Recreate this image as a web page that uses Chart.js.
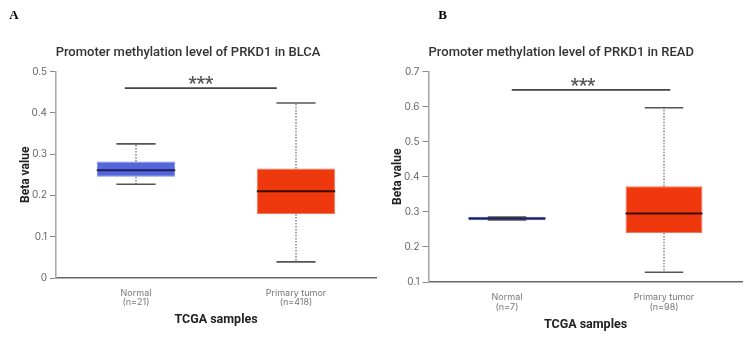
<!DOCTYPE html>
<html>
<head>
<meta charset="utf-8">
<script src="https://cdn.jsdelivr.net/npm/chart.js@4.4.1/dist/chart.umd.min.js"></script>
<style>
  html, body { margin: 0; padding: 0; background: #fff; }
  #wrap { position: relative; width: 750px; height: 339px; overflow: hidden; }
  canvas { position: absolute; top: 0; }
  #cA { left: 0; }
  #cB { left: 380px; }
</style>
</head>
<body>
<div id="wrap">
  <canvas id="cA" width="390" height="339"></canvas>
  <canvas id="cB" width="370" height="339"></canvas>
</div>
<script>
// BLCA
const catsA = [["Normal", "(n=21)"], ["Primary tumor", "(n=418)"]];
const lowA  = [0.227, 0.039];
const q1A   = [0.245, 0.155];
const medA  = [0.261, 0.210];
const q3A   = [0.282, 0.265];
const highA = [0.325, 0.424];
const ticksA = [0, 0.1, 0.2, 0.3, 0.4, 0.5];

// READ
const catsB = [["Normal", "(n=7)"], ["Primary tumor", "(n=98)"]];
const lowB  = [0.277, 0.128];
const q1B   = [0.276, 0.240];
const medB  = [0.281, 0.295];
const q3B   = [0.286, 0.373];
const highB = [0.285, 0.597];
const ticksB = [0.1, 0.2, 0.3, 0.4, 0.5, 0.6, 0.7];

const FONT = "Inter, 'Noto Sans', sans-serif";
const HEAD = "Roboto, 'Noto Sans', sans-serif";
const boxColors = ["#5566dd", "#f0380f"];
const boxBorders = ["#7d8be6", "#f4795a"];

// whiskers, caps, medians and the significance bracket
const boxWhiskers = {
  id: 'boxWhiskers',
  afterDatasetsDraw(chart, args, o) {
    const { ctx, scales: { x, y } } = chart;
    const meta = chart.getDatasetMeta(0);
    const seg = (x1, y1, x2, y2) => { ctx.beginPath(); ctx.moveTo(x1, y1); ctx.lineTo(x2, y2); ctx.stroke(); };
    ctx.save();
    meta.data.forEach((bar, i) => {
      const cx = bar.x, half = bar.width / 2, cap = bar.width / 4;
      const yLow = y.getPixelForValue(o.low[i]);
      const yHigh = y.getPixelForValue(o.high[i]);
      const yQ1 = y.getPixelForValue(o.q1[i]);
      const yQ3 = y.getPixelForValue(o.q3[i]);
      const yMed = y.getPixelForValue(o.med[i]);
      ctx.strokeStyle = '#444';
      ctx.lineWidth = 1;
      ctx.setLineDash([1.5, 1.5]);
      if (yHigh < yQ3) seg(cx, yQ3, cx, yHigh);
      if (yLow > yQ1) seg(cx, yQ1, cx, yLow);
      ctx.setLineDash([]);
      ctx.strokeStyle = '#555';
      ctx.lineWidth = 1.6;
      seg(cx - cap, yHigh, cx + cap, yHigh);
      seg(cx - cap, yLow, cx + cap, yLow);
      ctx.strokeStyle = o.medColor[i];
      ctx.lineWidth = 2;
      seg(cx - half, yMed, cx + half, yMed);
    });
    // bracket + stars
    const sx1 = x.getPixelForValue(o.sig[0]);
    const sx2 = x.getPixelForValue(o.sig[1]);
    const sy = y.getPixelForValue(o.sig[2]);
    ctx.strokeStyle = '#444';
    ctx.lineWidth = 1.6;
    seg(sx1, sy, sx2, sy);
    ctx.fillStyle = '#555';
    ctx.font = "bold 18px " + HEAD;
    ctx.textAlign = 'center';
    ctx.textBaseline = 'alphabetic';
    ctx.fillText('***', (sx1 + sx2) / 2 + o.starShift, sy + 1);
    ctx.restore();
  },
  afterDraw(chart, args, o) {
    const { ctx } = chart;
    ctx.save();
    ctx.fillStyle = '#000';
    ctx.font = "bold 13px 'Liberation Serif', 'DejaVu Serif', serif";
    ctx.textAlign = 'center';
    ctx.textBaseline = 'middle';
    ctx.fillText(o.letter, o.letterX, 16);
    ctx.restore();
  }
};

function makeChart(id, cfg) {
  return new Chart(document.getElementById(id), {
    type: 'bar',
    data: {
      labels: cfg.cats,
      datasets: [{
        data: cfg.q1.map((v, i) => [v, cfg.q3[i]]),
        backgroundColor: boxColors,
        borderColor: boxBorders,
        borderWidth: 1,
        borderSkipped: false,
        barPercentage: 0.49,
        categoryPercentage: 1
      }]
    },
    options: {
      responsive: false,
      animation: false,
      events: [],
      layout: { padding: { left: 0, right: cfg.padRight, top: 0, bottom: 0 } },
      plugins: {
        legend: { display: false },
        tooltip: { enabled: false },
        title: {
          display: true,
          text: cfg.title,
          color: '#333',
          font: { family: HEAD, size: 13, weight: '500', lineHeight: 1.2 },
          padding: { top: cfg.titleTop, bottom: cfg.titleBottom }
        },
        boxWhiskers: {
          low: cfg.low, q1: cfg.q1, med: cfg.med, q3: cfg.q3, high: cfg.high,
          medColor: ['#1a1f5a', '#3a0a00'],
          sig: cfg.sig, starShift: cfg.starShift,
          letter: cfg.letter, letterX: cfg.letterX
        }
      },
      scales: {
        x: {
          offset: true,
          grid: { display: false, drawTicks: false },
          border: { display: true, color: '#666', width: 1.5 },
          ticks: {
            color: '#777',
            padding: cfg.tickPad,
            font: { family: FONT, size: 9, lineHeight: cfg.tickLH }
          },
          title: {
            display: true,
            text: 'TCGA samples',
            color: '#222',
            font: { family: HEAD, size: 12.5, weight: 'bold', lineHeight: 1.2 },
            padding: { top: 0, bottom: cfg.xTitlePad }
          },
          afterFit: s => { s.height = cfg.xHeight; }
        },
        y: {
          min: cfg.yTicks[0],
          max: cfg.yTicks[cfg.yTicks.length - 1],
          afterBuildTicks: s => { s.ticks = cfg.yTicks.map(v => ({ value: v })); },
          grid: { display: true, drawOnChartArea: false, drawTicks: true, tickLength: 6, color: '#888', lineWidth: 1 },
          border: { display: true, color: '#aaa', width: 1.6 },
          ticks: {
            color: '#666',
            padding: 3,
            font: { family: FONT, size: 10 },
            callback: v => String(+v.toFixed(1))
          },
          title: {
            display: true,
            text: 'Beta value',
            color: '#222',
            font: { family: HEAD, size: 12, weight: 'bold', lineHeight: 1.2 },
            padding: { top: cfg.yTitlePad, bottom: 0 }
          },
          afterFit: s => { s.width = cfg.yWidth; }
        }
      }
    },
    plugins: [boxWhiskers]
  });
}

makeChart('cA', {
  cats: catsA, low: lowA, q1: q1A, med: medA, q3: q3A, high: highA, yTicks: ticksA,
  title: 'Promoter methylation level of PRKD1 in BLCA',
  sig: [-0.07, 0.88, 0.46], starShift: 0,
  letter: 'A', letterX: 14,
  padRight: 14, yWidth: 56, xHeight: 61,
  titleTop: 45, titleBottom: 11,
  tickPad: 10, tickLH: 1.07, xTitlePad: 12, yTitlePad: 19
});

makeChart('cB', {
  cats: catsB, low: lowB, q1: q1B, med: medB, q3: q3B, high: highB, yTicks: ticksB,
  title: 'Promoter methylation level of PRKD1 in READ',
  sig: [0.03, 1.04, 0.648], starShift: -8,
  letter: 'B', letterX: 62.5,
  padRight: 7.5, yWidth: 48.5, xHeight: 57,
  titleTop: 45, titleBottom: 11,
  tickPad: 9.5, tickLH: 1.18, xTitlePad: 7, yTitlePad: 11
});
</script>
</body>
</html>
